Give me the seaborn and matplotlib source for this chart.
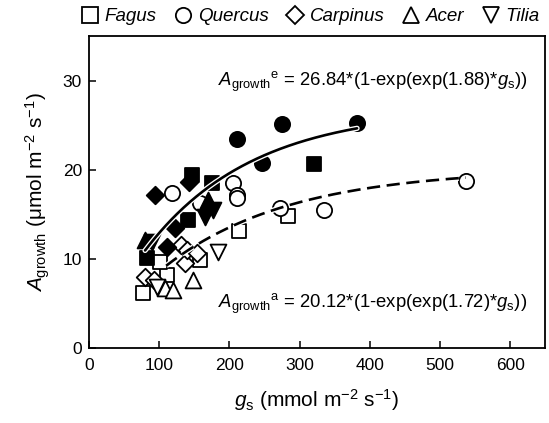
import numpy as np
import pandas as pd
import matplotlib
matplotlib.use("Agg")
import matplotlib.pyplot as plt
import matplotlib.patheffects as pe
from matplotlib.lines import Line2D
import seaborn as sns

# filled markers = elevated ("e"), open markers = ambient ("a")
fagus_e_gs = [147, 175, 141, 83, 320]
fagus_e_a = [19.4, 18.5, 14.4, 10.1, 20.7]
quercus_e_gs = [211, 275, 382, 246]
quercus_e_a = [23.5, 25.1, 25.2, 20.8]
carpinus_e_gs = [94, 143, 122, 111]
carpinus_e_a = [17.2, 18.6, 13.5, 11.3]
acer_e_gs = [80, 170]
acer_e_a = [12.1, 16.6]
tilia_e_gs = [90, 165, 177]
tilia_e_a = [11.9, 14.7, 15.5]

fagus_a_gs = [214, 283, 111, 77, 101, 158]
fagus_a_a = [13.1, 14.8, 8.2, 6.2, 9.7, 9.9]
quercus_a_gs = [118, 205, 211, 211, 272, 335, 537, 158]
quercus_a_a = [17.4, 18.5, 17.2, 16.8, 15.7, 15.5, 18.7, 16.3]
carpinus_a_gs = [80, 92, 131, 137, 140, 154]
carpinus_a_a = [8.0, 7.6, 11.6, 9.6, 11.0, 10.7]
acer_a_gs = [148, 108, 120]
acer_a_a = [7.6, 6.7, 6.5]
tilia_a_gs = [184, 97]
tilia_a_a = [10.8, 6.9]

# fitted curves: A = amax * (1 - exp(-exp(b) * gs / 1000))
fit_e = dict(amax=26.84, b=1.88, gs_min=80, gs_max=382)
fit_a = dict(amax=20.12, b=1.72, gs_min=110, gs_max=537)

species = ["Fagus", "Quercus", "Carpinus", "Acer", "Tilia"]
markers = {"Fagus": "s", "Quercus": "o", "Carpinus": "D", "Acer": "^", "Tilia": "v"}
sizes = {"Fagus": 110, "Quercus": 120, "Carpinus": 80, "Acer": 130, "Tilia": 130}

rows = []
for co2, sets in [("e", [(fagus_e_gs, fagus_e_a), (quercus_e_gs, quercus_e_a), (carpinus_e_gs, carpinus_e_a),
                         (acer_e_gs, acer_e_a), (tilia_e_gs, tilia_e_a)]),
                  ("a", [(fagus_a_gs, fagus_a_a), (quercus_a_gs, quercus_a_a), (carpinus_a_gs, carpinus_a_a),
                         (acer_a_gs, acer_a_a), (tilia_a_gs, tilia_a_a)])]:
    for sp, (g, a) in zip(species, sets):
        for gi, ai in zip(g, a):
            rows.append({"gs": gi, "A": ai, "species": sp, "co2": co2})
df = pd.DataFrame(rows)

sns.set_style("ticks")
plt.rcParams["font.family"] = ["Liberation Sans", "DejaVu Sans"]
plt.rcParams["mathtext.fontset"] = "custom"
plt.rcParams["mathtext.rm"] = "Liberation Sans"
plt.rcParams["mathtext.it"] = "Liberation Sans:italic"
plt.rcParams["text.color"] = "black"
plt.rcParams["axes.labelcolor"] = "black"
plt.rcParams["xtick.color"] = "black"
plt.rcParams["ytick.color"] = "black"
plt.rcParams["axes.edgecolor"] = "black"

fig = plt.figure(figsize=(5.49, 4.23), dpi=100)
ax = fig.add_axes([0.162, 0.177, 0.831, 0.738])

for sp in species:
    sub = df[df.species == sp]
    amb = sub[sub.co2 == "a"]
    ele = sub[sub.co2 == "e"]
    sns.scatterplot(data=amb, x="gs", y="A", marker=markers[sp], s=sizes[sp], color="white",
                    edgecolor="black", linewidth=1.3, ax=ax, zorder=2, legend=False)
    sns.scatterplot(data=ele, x="gs", y="A", marker=markers[sp], s=sizes[sp], color="black",
                    edgecolor="black", linewidth=1.3, ax=ax, zorder=2, legend=False)

halo = [pe.Stroke(linewidth=3.8, foreground="white"), pe.Normal()]
for fit, ls in [(fit_e, "-"), (fit_a, (0, (5, 2.5)))]:
    g = np.linspace(fit["gs_min"], fit["gs_max"], 200)
    a = fit["amax"] * (1 - np.exp(-np.exp(fit["b"]) * g / 1000))
    ax.plot(g, a, color="black", lw=1.9, ls=ls, zorder=3, path_effects=halo)

ax.text(184, 29.9, r"$\mathit{A}_{\mathrm{growth}}{}^{\mathrm{e}}$ = 26.84*(1-exp(exp(1.88)*$\mathit{g}_{\mathrm{s}}$))",
        fontsize=13.3, va="center", ha="left")
ax.text(184, 5.0, r"$\mathit{A}_{\mathrm{growth}}{}^{\mathrm{a}}$ = 20.12*(1-exp(exp(1.72)*$\mathit{g}_{\mathrm{s}}$))",
        fontsize=13.3, va="center", ha="left")

ax.set_xlim(0, 650)
ax.set_ylim(0, 35)
ax.set_xticks(range(0, 700, 100))
ax.set_yticks([0, 10, 20, 30])
ax.tick_params(direction="in", length=5, width=1.1, labelsize=12.5, top=False, right=False)
ax.tick_params(axis="x", pad=7)
ax.tick_params(axis="y", pad=5)
for s in ax.spines.values():
    s.set_linewidth(1.3)
    s.set_visible(True)
ax.set_xlabel(r"$\mathit{g}_{\mathrm{s}}$ (mmol m$^{-2}$ s$^{-1}$)", fontsize=15, labelpad=10)
ax.set_ylabel(r"$\mathit{A}_{\mathrm{growth}}$ ($\mathrm{\mu}$mol m$^{-2}$ s$^{-1}$)", fontsize=15, labelpad=8)

handles = [Line2D([], [], ls="none", marker=markers[sp], markersize=11 if sp != "Carpinus" else 9.5,
                  markerfacecolor="white", markeredgecolor="black", markeredgewidth=1.3) for sp in species]
leg = fig.legend(handles, species, loc="center", bbox_to_anchor=(0.565, 0.96), ncol=5, frameon=False,
                 handlelength=1.0, handletextpad=0.3, columnspacing=0.9, prop={"style": "italic", "size": 13.5})

fig.savefig("out.png", dpi=100)
